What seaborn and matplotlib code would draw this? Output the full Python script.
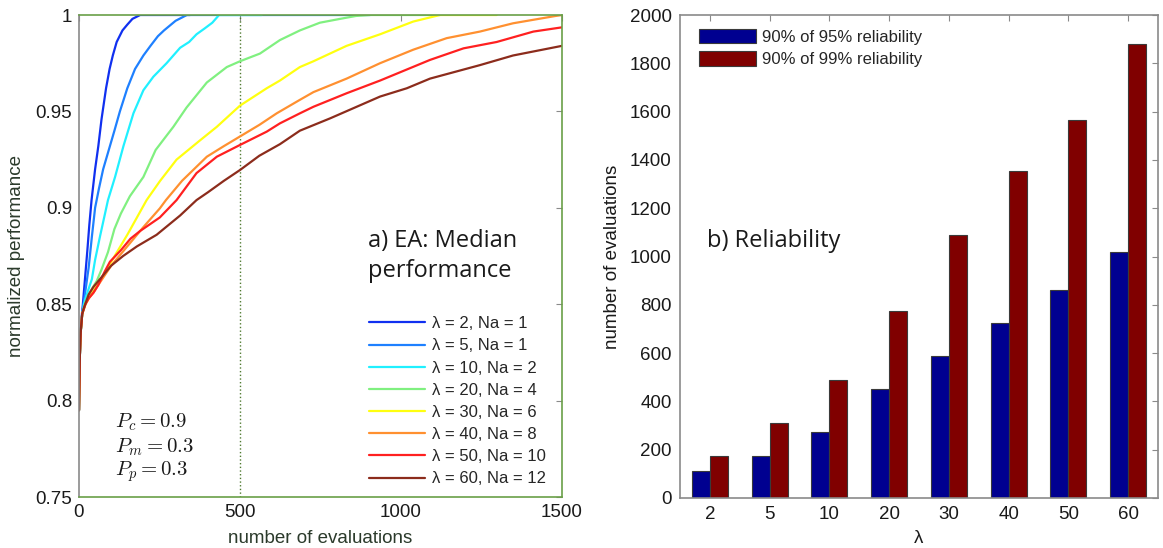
import matplotlib
matplotlib.use("Agg")
import matplotlib.pyplot as plt
from matplotlib.ticker import FormatStrFormatter
import numpy as np
import pandas as pd
import seaborn as sns

# ---------------- data: median performance curves ----------------
curve_labels = ["λ = 2, Na = 1", "λ = 5, Na = 1", "λ = 10, Na = 2", "λ = 20, Na = 4",
                "λ = 30, Na = 6", "λ = 40, Na = 8", "λ = 50, Na = 10", "λ = 60, Na = 12"]

evals_l2 = [0, 2, 5, 8, 12, 16, 20, 26, 32, 39, 50, 60, 70, 84, 95, 105, 117, 135, 150, 166, 190, 345]
perf_l2 = [0.795, 0.82, 0.835, 0.843, 0.85, 0.858, 0.866, 0.878, 0.891, 0.904, 0.92, 0.932, 0.946,
           0.962, 0.972, 0.979, 0.986, 0.992, 0.995, 0.998, 1.0, 1.0]

evals_l5 = [0, 2, 5, 10, 15, 20, 30, 40, 50, 62, 75, 96, 110, 127, 150, 174, 200, 222, 245, 264, 300, 335, 904]
perf_l5 = [0.795, 0.82, 0.835, 0.845, 0.851, 0.857, 0.869, 0.885, 0.9, 0.91, 0.92, 0.932, 0.94, 0.95,
           0.962, 0.972, 0.979, 0.984, 0.989, 0.992, 0.997, 1.0, 1.0]

evals_l10 = [0, 2, 5, 10, 15, 20, 30, 40, 50, 65, 90, 112, 138, 169, 200, 231, 272, 314, 342, 365, 390,
             414, 435, 567]
perf_l10 = [0.795, 0.82, 0.835, 0.845, 0.85, 0.853, 0.858, 0.863, 0.873, 0.885, 0.904, 0.916, 0.932,
            0.949, 0.961, 0.968, 0.975, 0.983, 0.986, 0.99, 0.993, 0.996, 1.0, 1.0]

evals_l20 = [0, 2, 5, 10, 20, 30, 40, 55, 70, 90, 110, 130, 158, 200, 238, 270, 293, 334, 397, 459, 500,
             562, 624, 686, 748, 811, 860, 904, 1121]
perf_l20 = [0.795, 0.82, 0.835, 0.845, 0.851, 0.855, 0.858, 0.862, 0.868, 0.877, 0.889, 0.897, 0.906,
            0.916, 0.93, 0.937, 0.942, 0.952, 0.965, 0.973, 0.976, 0.98, 0.987, 0.992, 0.996, 0.998,
            0.9995, 1.0, 1.0]

evals_l30 = [0, 2, 5, 10, 20, 30, 45, 60, 80, 100, 125, 150, 180, 210, 252, 303, 376, 428, 500, 583,
             624, 686, 728, 831, 935, 1038, 1121, 1297]
perf_l30 = [0.795, 0.82, 0.835, 0.845, 0.85, 0.853, 0.857, 0.861, 0.866, 0.872, 0.879, 0.886, 0.895,
            0.904, 0.914, 0.925, 0.935, 0.942, 0.953, 0.962, 0.966, 0.973, 0.976, 0.984, 0.99, 0.9966,
            1.0, 1.0]

evals_l40 = [0, 2, 5, 10, 20, 30, 45, 60, 80, 100, 130, 160, 200, 251, 270, 320, 397, 450, 500, 560,
             614, 686, 728, 831, 935, 1038, 1142, 1245, 1348, 1480, 1500]
perf_l40 = [0.795, 0.82, 0.835, 0.845, 0.85, 0.853, 0.856, 0.86, 0.865, 0.87, 0.876, 0.882, 0.89,
            0.8997, 0.904, 0.914, 0.9265, 0.932, 0.937, 0.943, 0.949, 0.956, 0.96, 0.967, 0.975, 0.982,
            0.988, 0.9914, 0.9957, 0.9995, 1.0]

evals_l50 = [0, 2, 5, 10, 20, 30, 45, 60, 80, 96, 130, 160, 190, 251, 303, 365, 428, 500, 583, 624,
             686, 728, 831, 935, 1090, 1194, 1297, 1411, 1500]
perf_l50 = [0.795, 0.82, 0.835, 0.845, 0.85, 0.853, 0.856, 0.86, 0.867, 0.872, 0.878, 0.884, 0.888,
            0.895, 0.904, 0.918, 0.9265, 0.9326, 0.9395, 0.9438, 0.949, 0.9524, 0.9594, 0.966, 0.9767,
            0.9827, 0.986, 0.9914, 0.9936]

evals_l60 = [0, 2, 5, 10, 15, 30, 45, 60, 80, 100, 137, 180, 241, 314, 365, 400, 450, 500, 560, 624,
             686, 780, 935, 1018, 1090, 1245, 1348, 1500]
perf_l60 = [0.795, 0.82, 0.835, 0.845, 0.848, 0.855, 0.859, 0.862, 0.866, 0.87, 0.875, 0.88, 0.886,
            0.896, 0.904, 0.908, 0.914, 0.9196, 0.927, 0.933, 0.94, 0.9464, 0.9577, 0.962, 0.967,
            0.974, 0.979, 0.984]

curve_evals = [evals_l2, evals_l5, evals_l10, evals_l20, evals_l30, evals_l40, evals_l50, evals_l60]
curve_perf = [perf_l2, perf_l5, perf_l10, perf_l20, perf_l30, perf_l40, perf_l50, perf_l60]
curve_colors = ["#1030f0", "#1e80ff", "#20f0ff", "#80f080", "#ffff10", "#ff9030", "#ff2020", "#8c2c1c"]

# ---------------- data: reliability bars ----------------
lambdas = ["2", "5", "10", "20", "30", "40", "50", "60"]
evals_95 = [110, 175, 275, 450, 590, 725, 860, 1020]
evals_99 = [175, 310, 490, 775, 1090, 1355, 1565, 1880]
series_names = ["90% of 95% reliability", "90% of 99% reliability"]
bar_colors = ["#000090", "#800000"]

# ---------------- style ----------------
sns.set_style("white")
plt.rcParams["font.family"] = ["Liberation Sans", "DejaVu Sans"]
plt.rcParams["mathtext.fontset"] = "cm"

text_col = "#1a1a1a"
green_spine = "#6a9f48"
gray_spine = "#8a8a8a"

fig = plt.figure(figsize=(11.63, 5.48), dpi=100)
ax1 = fig.add_axes([79 / 1163, 51 / 548, 483 / 1163, 482 / 548])
ax2 = fig.add_axes([680 / 1163, 50 / 548, 478 / 1163, 483 / 548])

# ---------------- left panel ----------------
rows = []
for lab, ev, pf in zip(curve_labels, curve_evals, curve_perf):
    for e, p in zip(ev, pf):
        rows.append((lab, e, p))
df_curves = pd.DataFrame(rows, columns=["setting", "evaluations", "performance"])

sns.lineplot(data=df_curves, x="evaluations", y="performance", hue="setting",
             hue_order=curve_labels, palette=curve_colors, estimator=None, sort=False,
             linewidth=1.6, ax=ax1, legend=True)

ax1.axvline(500, color="#4f7a30", linestyle=":", linewidth=1.0, zorder=1)

ax1.set_xlim(0, 1500)
ax1.set_ylim(0.75, 1.0)
ax1.set_xticks([0, 500, 1000, 1500])
ax1.set_yticks([0.75, 0.8, 0.85, 0.9, 0.95, 1.0])
ax1.yaxis.set_major_formatter(FormatStrFormatter("%g"))
ax1.tick_params(direction="in", length=4, width=0.8, top=True, right=True,
                labelsize=13.5, labelcolor=text_col, color=gray_spine, pad=5)
for side in ["bottom", "top", "right"]:
    ax1.spines[side].set_color(green_spine)
ax1.spines["left"].set_color(gray_spine)
for sp in ax1.spines.values():
    sp.set_linewidth(1.2)

ax1.set_xlabel("number of evaluations", fontsize=13.5, color="#2b3a2b")
ax1.set_ylabel("normalized performance", fontsize=13.5, color="#2b3a2b")
ax1.xaxis.set_label_coords(0.5, -0.068)
ax1.yaxis.set_label_coords(-0.112, 0.5)

h, l = ax1.get_legend_handles_labels()
ax1.legend(h, l, loc="lower left", bbox_to_anchor=(0.6, 0.022), frameon=False,
           fontsize=12, handlelength=3.4, handletextpad=0.4, labelspacing=0.43,
           borderaxespad=0, borderpad=0)

ax1.text(0.598, 0.5, "a) EA: Median\nperformance", transform=ax1.transAxes,
         ha="left", va="center", fontsize=17, family=["Open Sans", "DejaVu Sans"],
         color=text_col, linespacing=1.35)
p_lines = [r"$P_c = 0.9$", r"$P_m = 0.3$", r"$P_p = 0.3$"]
p_ys = [0.1556, 0.1037, 0.0519]
for s, yy in zip(p_lines, p_ys):
    ax1.text(0.0745, yy, s, transform=ax1.transAxes, ha="left", va="center",
             fontsize=15, color=text_col)

# ---------------- right panel ----------------
df_bars = pd.DataFrame({
    "lam": lambdas * 2,
    "evals": evals_95 + evals_99,
    "series": [series_names[0]] * len(lambdas) + [series_names[1]] * len(lambdas),
})
sns.barplot(data=df_bars, x="lam", y="evals", hue="series", order=lambdas,
            hue_order=series_names, palette=bar_colors, saturation=1, width=0.6,
            edgecolor="#3a3a3a", linewidth=0.8, ax=ax2)

ax2.set_xlim(-0.5, len(lambdas) - 0.5)
ax2.set_ylim(0, 2000)
ax2.set_yticks(np.arange(0, 2001, 200))
ax2.tick_params(direction="in", length=4, width=0.8, top=True, right=True,
                labelsize=13.5, labelcolor=text_col, color=gray_spine, pad=6)
for sp in ax2.spines.values():
    sp.set_color(gray_spine)
    sp.set_linewidth(1.2)

ax2.set_xlabel("λ", fontsize=13.5, color=text_col)
ax2.set_ylabel("number of evaluations", fontsize=13.5, color=text_col)
ax2.xaxis.set_label_coords(0.5, -0.066)
ax2.yaxis.set_label_coords(-0.124, 0.5)

h2, l2 = ax2.get_legend_handles_labels()
ax2.legend(h2, l2, loc="upper left", bbox_to_anchor=(0.04, 0.972), frameon=False,
           fontsize=12, handlelength=3.4, handleheight=1.0, handletextpad=0.4,
           labelspacing=0.38, borderaxespad=0, borderpad=0)

ax2.text(0.0565, 0.532, "b) Reliability", transform=ax2.transAxes, ha="left", va="center",
         fontsize=17, family=["Open Sans", "DejaVu Sans"], color=text_col)

fig.savefig("out.png", dpi=100)
